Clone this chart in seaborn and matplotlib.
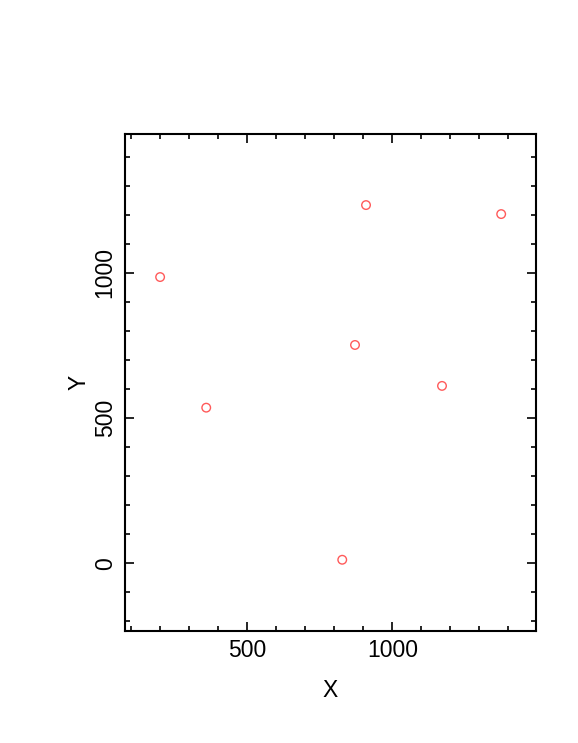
import matplotlib
matplotlib.use('Agg')
import matplotlib.pyplot as plt
from matplotlib.ticker import MultipleLocator
import pandas as pd
import seaborn as sns

# data
x_vals = [199, 358, 827, 871, 909, 1171, 1375]
y_vals = [986, 536, 12, 752, 1234, 611, 1203]

data = pd.DataFrame({'X': x_vals, 'Y': y_vals})

sns.set_style('ticks')
plt.rcParams['font.family'] = ['Liberation Sans', 'DejaVu Sans']
plt.rcParams['text.color'] = 'black'
plt.rcParams['axes.labelcolor'] = 'black'

fig = plt.figure(figsize=(5.78, 7.43), dpi=100)
ax = fig.add_axes([0.2163, 0.1513, 0.711, 0.6684])

sns.scatterplot(data=data, x='X', y='Y', ax=ax, marker='o', s=38,
                facecolor='none', edgecolor='#ff5a5a', linewidth=1.0)

ax.set_xlim(78, 1495)
ax.set_ylim(-232, 1479)
ax.xaxis.set_major_locator(MultipleLocator(500))
ax.xaxis.set_minor_locator(MultipleLocator(100))
ax.yaxis.set_major_locator(MultipleLocator(500))
ax.yaxis.set_minor_locator(MultipleLocator(100))

for s in ax.spines.values():
    s.set_visible(True)
    s.set_linewidth(1.5)
    s.set_color('black')

ax.tick_params(which='both', direction='in', top=True, right=True,
               colors='black', labelsize=16.5, width=1.2)
ax.tick_params(which='major', length=6.5, pad=6)
ax.tick_params(which='minor', length=3.6)
for lab in ax.get_yticklabels():
    lab.set_rotation(90)
    lab.set_va('center')

ax.set_xlabel('X', fontsize=16.5, labelpad=12)
ax.set_ylabel('Y', fontsize=16.5, labelpad=2)

plt.savefig('out.png', dpi=100)
plt.close()
